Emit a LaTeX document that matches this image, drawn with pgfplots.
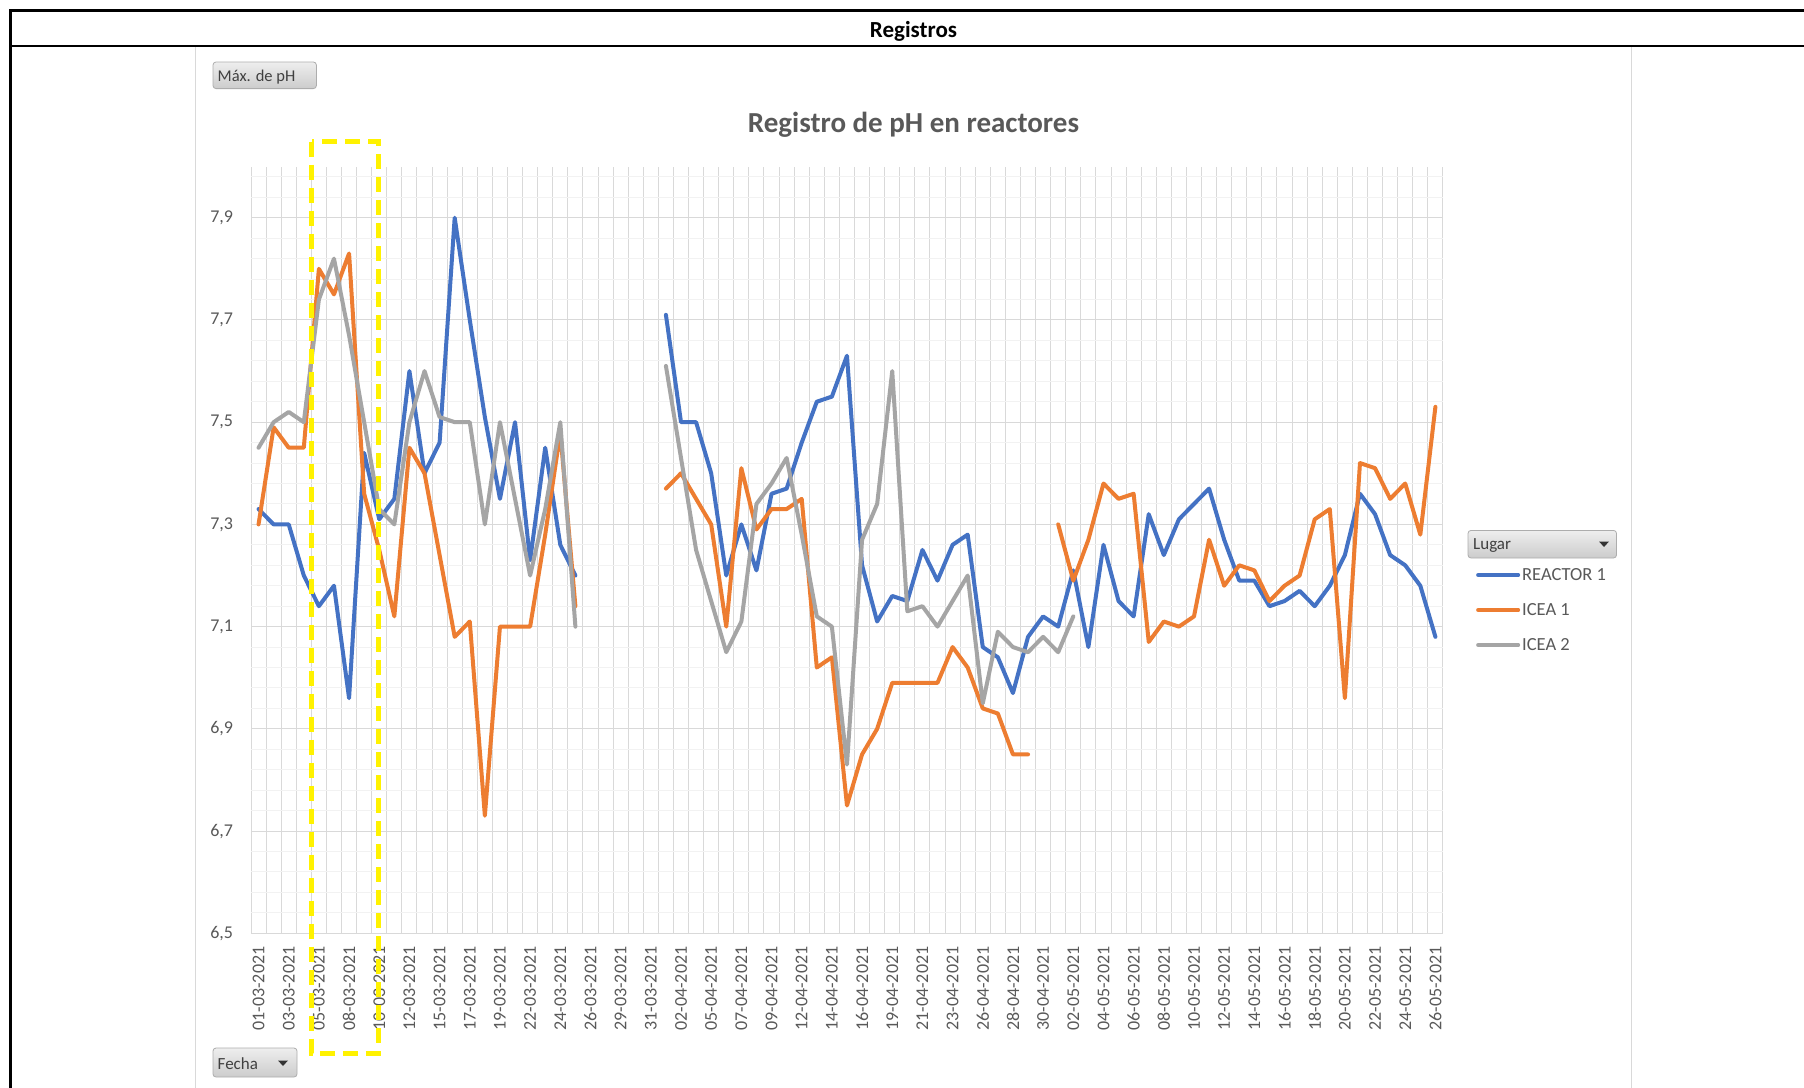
\documentclass[border=0pt]{standalone}
\usepackage{pgfplots}
\pgfplotsset{compat=1.18}
\usepackage{pgfplotstable}
\usepackage{fontspec}
\setmainfont{Carlito}
\definecolor{cblue}{HTML}{4472C4}
\definecolor{corange}{HTML}{ED7D31}
\definecolor{cgray}{HTML}{A5A5A5}
\definecolor{txt}{HTML}{595959}
\definecolor{gridmaj}{HTML}{D9D9D9}
\definecolor{gridmin}{HTML}{F2F2F2}
\definecolor{frame}{HTML}{D9D9D9}
\definecolor{btntop}{HTML}{EEEEEE}
\definecolor{btnbot}{HTML}{CCCCCC}
\definecolor{btnline}{HTML}{ADADAD}
\definecolor{btntxt}{HTML}{404040}

\pgfplotstableread{
i r1 c1 c2
0 7.33 7.30 7.45
1 7.30 7.49 7.50
2 7.30 7.45 7.52
3 7.20 7.45 7.50
4 7.14 7.80 7.74
5 7.18 7.75 7.82
6 6.96 7.83 7.67
7 7.44 7.36 7.50
8 7.31 7.25 7.33
9 7.35 7.12 7.30
10 7.60 7.45 7.50
11 7.40 7.40 7.60
12 7.46 7.24 7.51
13 7.90 7.08 7.50
14 7.70 7.11 7.50
15 7.51 6.73 7.30
16 7.35 7.10 7.50
17 7.50 7.10 7.35
18 7.23 7.10 7.20
19 7.45 7.28 7.33
20 7.26 7.48 7.50
21 7.20 7.14 7.10
22 nan nan nan
23 nan nan nan
24 nan nan nan
25 nan nan nan
26 nan nan nan
27 7.71 7.37 7.61
28 7.50 7.40 7.43
29 7.50 7.35 7.25
30 7.40 7.30 7.15
31 7.20 7.10 7.05
32 7.30 7.41 7.11
33 7.21 7.29 7.34
34 7.36 7.33 7.38
35 7.37 7.33 7.43
36 7.46 7.35 7.28
37 7.54 7.02 7.12
38 7.55 7.04 7.10
39 7.63 6.75 6.83
40 7.22 6.85 7.27
41 7.11 6.90 7.34
42 7.16 6.99 7.60
43 7.15 6.99 7.13
44 7.25 6.99 7.14
45 7.19 6.99 7.10
46 7.26 7.06 7.15
47 7.28 7.02 7.20
48 7.06 6.94 6.95
49 7.04 6.93 7.09
50 6.97 6.85 7.06
51 7.08 6.85 7.05
52 7.12 nan 7.08
53 7.10 7.30 7.05
54 7.21 7.19 7.12
55 7.06 7.27 nan
56 7.26 7.38 nan
57 7.15 7.35 nan
58 7.12 7.36 nan
59 7.32 7.07 nan
60 7.24 7.11 nan
61 7.31 7.10 nan
62 7.34 7.12 nan
63 7.37 7.27 nan
64 7.27 7.18 nan
65 7.19 7.22 nan
66 7.19 7.21 nan
67 7.14 7.15 nan
68 7.15 7.18 nan
69 7.17 7.20 nan
70 7.14 7.31 nan
71 7.18 7.33 nan
72 7.24 6.96 nan
73 7.36 7.42 nan
74 7.32 7.41 nan
75 7.24 7.35 nan
76 7.22 7.38 nan
77 7.18 7.28 nan
78 7.08 7.53 nan
}\datatable

\begin{document}
\begin{tikzpicture}
\useasboundingbox (0pt,0pt) rectangle (1804pt,-1087pt);
\fill[white] (0pt,0pt) rectangle (1804pt,-1087pt);
% chart area frame
\draw[frame, line width=1.5pt] (195.6pt,-46pt) -- (195.6pt,-1090pt);
\draw[frame, line width=1.5pt] (1631.5pt,-46pt) -- (1631.5pt,-1090pt);
% table borders
\draw[black, line width=2.3pt] (10.4pt,-1090pt) -- (10.4pt,-10.4pt) -- (1810pt,-10.4pt);
\draw[black, line width=2.3pt] (10.4pt,-46pt) -- (1810pt,-46pt);
\node[font=\bfseries\fontsize{23}{23}\selectfont, text=black] at (913.5pt,-31pt) {Registros};

% buttons
\shade[top color=btntop, bottom color=btnbot, draw=btnline, rounded corners=3pt, line width=0.8pt] (213pt,-62pt) rectangle (316.4pt,-88.6pt);
\node[anchor=west, font=\fontsize{16.5}{16.5}\selectfont, text=btntxt, inner sep=0pt] at (217.5pt,-77.5pt) {Máx. de pH};
\shade[top color=btntop, bottom color=btnbot, draw=btnline, rounded corners=3pt, line width=0.8pt] (213pt,-1048pt) rectangle (297pt,-1077pt);
\node[anchor=west, font=\fontsize{17}{17}\selectfont, text=btntxt, inner sep=0pt] at (217.5pt,-1064pt) {Fecha};
\fill[black!80] (278pt,-1060.5pt) -- (288pt,-1060.5pt) -- (283pt,-1066pt) -- cycle;
\shade[top color=btntop, bottom color=btnbot, draw=btnline, rounded corners=3pt, line width=0.8pt] (1468pt,-530.4pt) rectangle (1616.5pt,-558pt);
\node[anchor=west, font=\fontsize{17}{17}\selectfont, text=btntxt, inner sep=0pt] at (1473pt,-545pt) {Lugar};
\fill[black!80] (1599pt,-541.5pt) -- (1609pt,-541.5pt) -- (1604pt,-547pt) -- cycle;

% title
\node[font=\bfseries\fontsize{29}{29}\selectfont, text=txt] at (913.5pt,-125pt) {Registro de pH en reactores};

\begin{axis}[
  at={(251pt,-933.3pt)}, anchor=south west,
  scale only axis, width=1192pt, height=766.7pt,
  xmin=-0.5, xmax=78.5, ymin=6.5, ymax=8.0,
  axis line style={draw=none},
  major tick length=0pt, minor tick length=0pt,
  tick style={draw=none},
  xtick={0,2,...,78},
  xticklabels={01-03-2021,03-03-2021,05-03-2021,08-03-2021,10-03-2021,12-03-2021,15-03-2021,17-03-2021,19-03-2021,22-03-2021,24-03-2021,26-03-2021,29-03-2021,31-03-2021,02-04-2021,05-04-2021,07-04-2021,09-04-2021,12-04-2021,14-04-2021,16-04-2021,19-04-2021,21-04-2021,23-04-2021,26-04-2021,28-04-2021,30-04-2021,02-05-2021,04-05-2021,06-05-2021,08-05-2021,10-05-2021,12-05-2021,14-05-2021,16-05-2021,18-05-2021,20-05-2021,22-05-2021,24-05-2021,26-05-2021},
  minor xtick={-0.5,0.5,...,78.5},
  xminorgrids=true,
  ytick={6.5,6.7,6.9,7.1,7.3,7.5,7.7,7.9},
  minor ytick={6.54,6.58,6.62,6.66,6.74,6.78,6.82,6.86,6.94,6.98,7.02,7.06,7.14,7.18,7.22,7.26,7.34,7.38,7.42,7.46,7.54,7.58,7.62,7.66,7.74,7.78,7.82,7.86,7.94,7.98},
  ymajorgrids=true, yminorgrids=true,
  major y grid style={draw=gridmaj, line width=1pt},
  minor y grid style={draw=gridmin, line width=1pt},
  minor x grid style={draw=gridmaj, line width=1pt},
  yticklabel style={font=\fontsize{18}{18}\selectfont, text=txt, inner sep=0pt, anchor=east, xshift=-17.7pt},
  xticklabel style={font=\fontsize{18}{18}\selectfont, text=txt, rotate=90, anchor=east, inner xsep=13pt, inner ysep=0pt},
  /pgf/number format/.cd, use comma, fixed, fixed zerofill, precision=1, assume math mode=true,
  /pgfplots/.cd,
  unbounded coords=jump,
  legend cell align=left,
  legend style={at={(rel axis cs:1.0277,0.479)}, anchor=north west, draw=none, fill=none, inner sep=0pt,
     font=\fontsize{18.5}{18.5}\selectfont, text=txt, row sep=17.5pt,
     /tikz/every even column/.append style={column sep=5pt}},
  legend image code/.code={\draw[#1, line width=4pt] (0pt,0pt) -- (40pt,0pt);},
  every axis plot/.append style={line width=4pt, line join=round, line cap=round},
]
\addplot[cblue] table[x=i, y=r1] {\datatable};
\addlegendentry{REACTOR 1}
\addplot[corange] table[x=i, y=c1] {\datatable};
\addlegendentry{ICEA 1}
\addplot[cgray] table[x=i, y=c2] {\datatable};
\addlegendentry{ICEA 2}
\end{axis}

% yellow dashed highlight
\draw[yellow, line width=5pt, dash pattern=on 15pt off 8pt] (311.7pt,-141.5pt) rectangle (378.3pt,-1053.3pt);
\end{tikzpicture}
\end{document}
